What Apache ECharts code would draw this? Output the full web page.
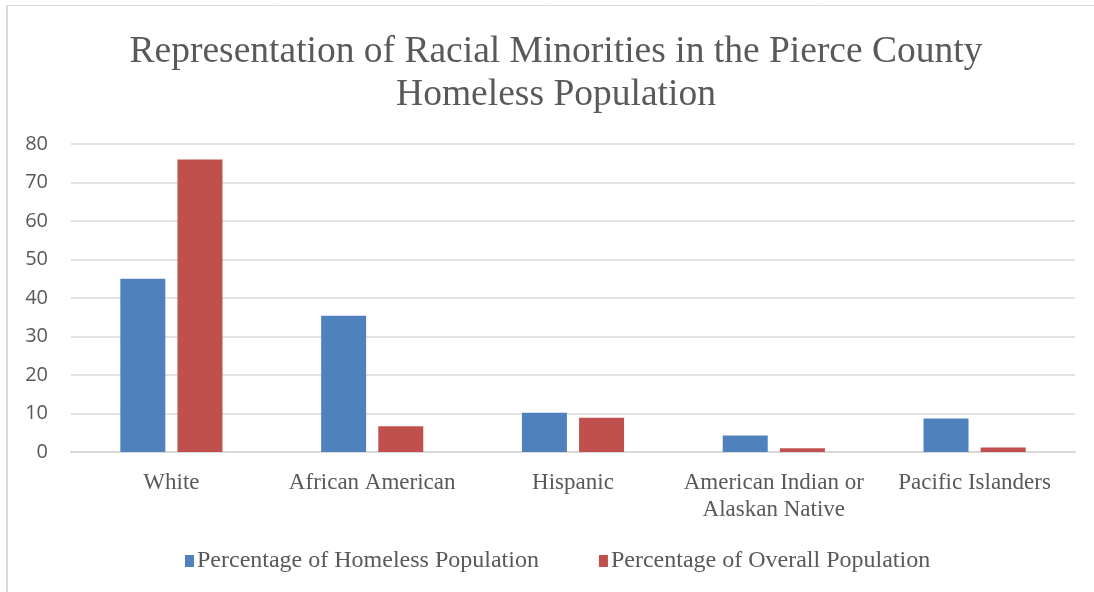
<!DOCTYPE html>
<html>
<head>
<meta charset="utf-8">
<script src="https://cdn.jsdelivr.net/npm/echarts@6/dist/echarts.min.js"></script>
<style>
  html, body { margin: 0; padding: 0; background: #ffffff; }
  #chart { width: 1094px; height: 592px; }
</style>
</head>
<body>
<div id="chart"></div>
<script>
// Racial groups in Pierce County and their share (%) of each population
const categories = ['White', 'African American', 'Hispanic', 'American Indian or\nAlaskan Native', 'Pacific Islanders'];
const homelessShare = [45, 35.4, 10.2, 4.3, 8.7];
const overallShare = [76, 6.7, 8.9, 1.0, 1.2];
const yTicks = [0, 10, 20, 30, 40, 50, 60, 70, 80];

const textColor = '#595959';
const serif = '"Liberation Serif", "Times New Roman", serif';
const sans = '"Open Sans", "Liberation Sans", sans-serif';

const chart = echarts.init(document.getElementById('chart'), null, { renderer: 'canvas' });

chart.setOption({
  backgroundColor: '#ffffff',
  animation: false,
  title: {
    text: 'Representation of Racial Minorities in the Pierce County\nHomeless Population',
    left: 551,
    top: 26,
    textAlign: 'center',
    textStyle: {
      fontFamily: serif,
      fontSize: 37.5,
      fontWeight: 'normal',
      color: textColor,
      lineHeight: 43
    }
  },
  graphic: [
    { type: 'line', shape: { x1: 7, y1: 5.5, x2: 1094, y2: 5.5 }, style: { stroke: '#d9d9d9', lineWidth: 1 } },
    { type: 'line', shape: { x1: 7, y1: 5, x2: 7, y2: 592 }, style: { stroke: '#d9d9d9', lineWidth: 2 } }
  ],
  legend: {
    data: ['Percentage of Homeless Population', 'Percentage of Overall Population'],
    left: 180,
    top: 544,
    itemWidth: 9,
    itemHeight: 12,
    itemGap: 60,
    icon: 'rect',
    textStyle: { fontFamily: serif, fontSize: 24, color: textColor, padding: [0, 0, 0, -2] }
  },
  grid: { left: 71, right: 19, top: 144, bottom: 140, containLabel: false },
  xAxis: {
    type: 'category',
    data: categories,
    axisLine: { lineStyle: { color: '#d9d9d9', width: 2 } },
    axisTick: { show: false },
    axisLabel: {
      fontFamily: serif,
      fontSize: 23,
      color: textColor,
      margin: 17,
      lineHeight: 27,
      interval: 0
    }
  },
  yAxis: {
    type: 'value',
    min: yTicks[0],
    max: yTicks[yTicks.length - 1],
    interval: 10,
    axisLine: { show: false },
    axisTick: { show: false },
    splitLine: { lineStyle: { color: '#d9d9d9', width: 1.5 } },
    axisLabel: { fontFamily: sans, fontSize: 20, color: textColor, margin: 23 }
  },
  series: [
    {
      name: 'Percentage of Homeless Population',
      type: 'bar',
      data: homelessShare,
      barWidth: 45,
      barGap: '27%',
      itemStyle: { color: '#4f81bd' }
    },
    {
      name: 'Percentage of Overall Population',
      type: 'bar',
      data: overallShare,
      barWidth: 45,
      barGap: '27%',
      itemStyle: { color: '#c0504d' }
    }
  ]
});
</script>
</body>
</html>
